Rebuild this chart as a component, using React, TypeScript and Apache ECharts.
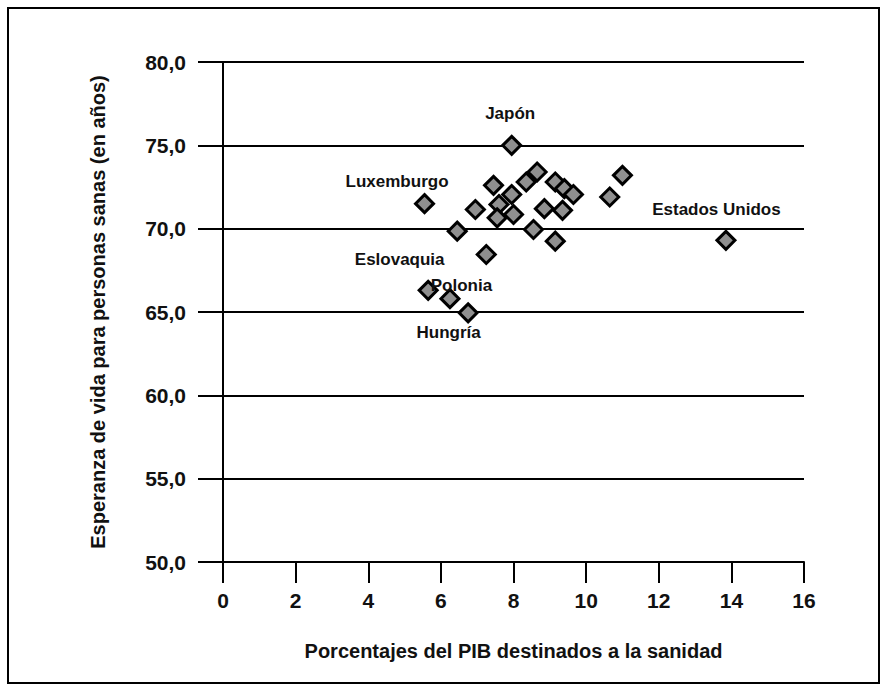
import React, { useEffect, useRef } from "react";
import * as echarts from "echarts";

const countryNames = [
  "Luxemburgo", "Eslovaquia", "Polonia", "Hungría", "", "", "", "", "", "", "", "",
  "Japón", "", "", "", "", "", "", "", "", "", "", "", "Estados Unidos",
];
const gdpHealthShare = [
  5.55, 5.65, 6.25, 6.75, 6.45, 6.95, 7.25, 7.45, 7.6, 7.55, 7.95, 8.0,
  7.95, 8.35, 8.65, 8.55, 8.85, 9.15, 9.4, 9.65, 9.35, 9.15, 10.65, 11.0, 13.85,
];
const healthyLifeExpectancy = [
  71.5, 66.3, 65.8, 64.95, 69.85, 71.15, 68.45, 72.6, 71.45, 70.65, 72.05, 70.85,
  75.0, 72.8, 73.4, 69.95, 71.2, 72.8, 72.4, 72.05, 71.1, 69.25, 71.9, 73.2, 69.3,
];
const xTitle = "Porcentajes del PIB destinados a la sanidad";
const yTitle = "Esperanza de vida para personas sanas (en años)";

// label offsets (style), relative to the marker centre
const labelOffsets: Record<string, [number, number]> = {
  "Japón": [0, -30],
  "Luxemburgo": [-26, -21],
  "Eslovaquia": [-27, -29],
  "Polonia": [13, -12],
  "Hungría": [-18, 21],
  "Estados Unidos": [-8, -29],
};

const FONT = "'Liberation Sans', Arial, Helvetica, sans-serif";
const SYM = 18;

export default function App() {
  const ref = useRef<HTMLDivElement>(null);
  useEffect(() => {
    if (!ref.current) return;
    const chart = echarts.init(ref.current, undefined, { renderer: "svg" });
    const data = gdpHealthShare.map((x, i) => {
      const name = countryNames[i];
      const item: any = { name, value: [x, healthyLifeExpectancy[i]] };
      if (name) {
        const off = labelOffsets[name];
        item.label = {
          show: true,
          formatter: name,
          position: [SYM / 2 + off[0], SYM / 2 + off[1]],
          align: "center",
          verticalAlign: "middle",
          color: "#111",
          fontFamily: FONT,
          fontWeight: "bold",
          fontSize: 17,
        };
      }
      return item;
    });
    chart.setOption({
      animation: false,
      backgroundColor: "#ffffff",
      textStyle: { fontFamily: FONT },
      grid: { left: 223, right: 83, top: 62, bottom: 129, containLabel: false },
      xAxis: {
        type: "value",
        min: 0,
        max: 16,
        interval: 2,
        name: xTitle,
        nameLocation: "middle",
        nameGap: 79,
        nameTextStyle: { color: "#111", fontSize: 20, fontWeight: "bold", fontFamily: FONT },
        axisLine: { show: true, onZero: false, lineStyle: { color: "#000", width: 2 } },
        axisTick: { show: true, inside: false, length: 21, lineStyle: { color: "#000", width: 2 } },
        axisLabel: { color: "#111", fontSize: 21, fontWeight: "bold", margin: 28, fontFamily: FONT },
        splitLine: { show: false },
      },
      yAxis: {
        type: "value",
        min: 50,
        max: 80,
        interval: 5,
        name: yTitle,
        nameLocation: "middle",
        nameGap: 115,
        nameRotate: 90,
        nameTextStyle: { color: "#111", fontSize: 20, fontWeight: "bold", fontFamily: FONT },
        axisLine: { show: true, onZero: false, lineStyle: { color: "#000", width: 2 } },
        axisTick: { show: true, inside: false, length: 25, lineStyle: { color: "#000", width: 2 } },
        axisLabel: {
          color: "#111",
          fontSize: 21,
          fontWeight: "bold",
          margin: 37,
          fontFamily: FONT,
          formatter: (v: number) => v.toFixed(1).replace(".", ","),
        },
        splitLine: { show: true, lineStyle: { color: "#000", width: 2 } },
      },
      graphic: [
        {
          type: "rect",
          shape: { x: 8, y: 8, width: 871, height: 675 },
          style: { fill: "none", stroke: "#000", lineWidth: 2 },
          silent: true,
          z: -1,
        },
      ],
      series: [
        {
          type: "scatter",
          symbol: "diamond",
          symbolSize: [SYM, SYM],
          itemStyle: {
            color: "#8f8f8f",
            borderColor: "#000",
            borderWidth: 3,
            opacity: 1,
          },
          label: { show: false },
          labelLayout: { hideOverlap: false },
          data,
        },
      ],
    });
    return () => chart.dispose();
  }, []);
  return (
    <div
      ref={ref}
      style={{ position: "fixed", left: 0, top: 0, width: 887, height: 691 }}
    />
  );
}
